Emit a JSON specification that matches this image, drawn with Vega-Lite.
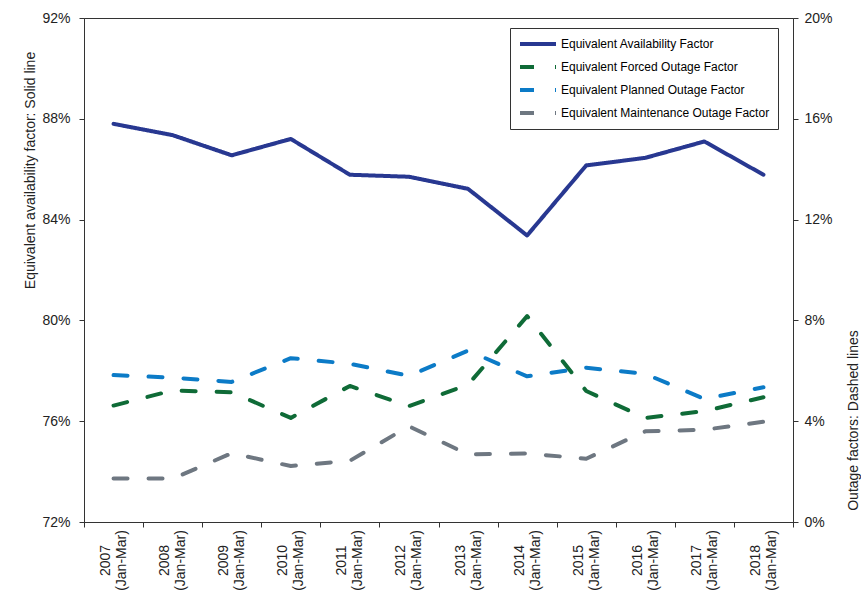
{
  "$schema": "https://vega.github.io/schema/vega-lite/v6.json",
  "autosize": {"type": "none"},
  "padding": {"left": 84, "top": 18, "right": 68, "bottom": 70},
  "width": 709,
  "height": 504,
  "config": {
    "font": "Liberation Sans",
    "view": {"stroke": "#333", "strokeWidth": 1},
    "axis": {
      "domainColor": "#333",
      "tickColor": "#333",
      "labelColor": "#222",
      "titleColor": "#222",
      "grid": false,
      "labelFontSize": 14,
      "titleFontSize": 14,
      "titleFontWeight": "normal",
      "tickSize": 5
    },
    "legend": {
      "orient": "none",
      "legendX": 426,
      "legendY": 10,
      "title": null,
      "symbolType": "M-1,0H5",
      "symbolSize": 144,
      "symbolStrokeWidth": 4,
      "labelFontSize": 12,
      "labelLimit": 320,
      "labelOffset": 27,
      "strokeColor": "#333",
      "fillColor": "white",
      "padding": 8,
      "rowPadding": 7
    }
  },
  "data": {
    "values": [
      {"year": "2007", "series": "Equivalent Availability Factor", "value": 87.8},
      {"year": "2008", "series": "Equivalent Availability Factor", "value": 87.35},
      {"year": "2009", "series": "Equivalent Availability Factor", "value": 86.55},
      {"year": "2010", "series": "Equivalent Availability Factor", "value": 87.2},
      {"year": "2011", "series": "Equivalent Availability Factor", "value": 85.78},
      {"year": "2012", "series": "Equivalent Availability Factor", "value": 85.7},
      {"year": "2013", "series": "Equivalent Availability Factor", "value": 85.22},
      {"year": "2014", "series": "Equivalent Availability Factor", "value": 83.37},
      {"year": "2015", "series": "Equivalent Availability Factor", "value": 86.15},
      {"year": "2016", "series": "Equivalent Availability Factor", "value": 86.45},
      {"year": "2017", "series": "Equivalent Availability Factor", "value": 87.1},
      {"year": "2018", "series": "Equivalent Availability Factor", "value": 85.78},
      {"year": "2007", "series": "Equivalent Forced Outage Factor", "value": 4.62},
      {"year": "2008", "series": "Equivalent Forced Outage Factor", "value": 5.22},
      {"year": "2009", "series": "Equivalent Forced Outage Factor", "value": 5.15},
      {"year": "2010", "series": "Equivalent Forced Outage Factor", "value": 4.13},
      {"year": "2011", "series": "Equivalent Forced Outage Factor", "value": 5.4},
      {"year": "2012", "series": "Equivalent Forced Outage Factor", "value": 4.6},
      {"year": "2013", "series": "Equivalent Forced Outage Factor", "value": 5.45},
      {"year": "2014", "series": "Equivalent Forced Outage Factor", "value": 8.17},
      {"year": "2015", "series": "Equivalent Forced Outage Factor", "value": 5.2},
      {"year": "2016", "series": "Equivalent Forced Outage Factor", "value": 4.13},
      {"year": "2017", "series": "Equivalent Forced Outage Factor", "value": 4.4},
      {"year": "2018", "series": "Equivalent Forced Outage Factor", "value": 4.95},
      {"year": "2007", "series": "Equivalent Planned Outage Factor", "value": 5.83},
      {"year": "2008", "series": "Equivalent Planned Outage Factor", "value": 5.73},
      {"year": "2009", "series": "Equivalent Planned Outage Factor", "value": 5.56},
      {"year": "2010", "series": "Equivalent Planned Outage Factor", "value": 6.5},
      {"year": "2011", "series": "Equivalent Planned Outage Factor", "value": 6.28},
      {"year": "2012", "series": "Equivalent Planned Outage Factor", "value": 5.8},
      {"year": "2013", "series": "Equivalent Planned Outage Factor", "value": 6.8},
      {"year": "2014", "series": "Equivalent Planned Outage Factor", "value": 5.78},
      {"year": "2015", "series": "Equivalent Planned Outage Factor", "value": 6.12},
      {"year": "2016", "series": "Equivalent Planned Outage Factor", "value": 5.88},
      {"year": "2017", "series": "Equivalent Planned Outage Factor", "value": 4.88},
      {"year": "2018", "series": "Equivalent Planned Outage Factor", "value": 5.35},
      {"year": "2007", "series": "Equivalent Maintenance Outage Factor", "value": 1.73},
      {"year": "2008", "series": "Equivalent Maintenance Outage Factor", "value": 1.72},
      {"year": "2009", "series": "Equivalent Maintenance Outage Factor", "value": 2.73},
      {"year": "2010", "series": "Equivalent Maintenance Outage Factor", "value": 2.22},
      {"year": "2011", "series": "Equivalent Maintenance Outage Factor", "value": 2.43},
      {"year": "2012", "series": "Equivalent Maintenance Outage Factor", "value": 3.8},
      {"year": "2013", "series": "Equivalent Maintenance Outage Factor", "value": 2.68},
      {"year": "2014", "series": "Equivalent Maintenance Outage Factor", "value": 2.72},
      {"year": "2015", "series": "Equivalent Maintenance Outage Factor", "value": 2.51},
      {"year": "2016", "series": "Equivalent Maintenance Outage Factor", "value": 3.6},
      {"year": "2017", "series": "Equivalent Maintenance Outage Factor", "value": 3.66},
      {"year": "2018", "series": "Equivalent Maintenance Outage Factor", "value": 3.98}
    ]
  },
  "encoding": {
    "x": {
      "field": "year",
      "type": "ordinal",
      "scale": {"type": "band", "paddingInner": 0, "paddingOuter": 0},
      "axis": {
        "title": null,
        "tickBand": "extent",
        "labelExpr": "datum.label ? [datum.label, '(Jan-Mar)'] : ''",
        "labelAngle": 270,
        "labelAlign": "center",
        "labelBaseline": "middle",
        "labelPadding": 33,
        "labelOffset": -8,
        "labelLineHeight": 16,
        "labelFontSize": 14
      }
    },
    "color": {
      "field": "series",
      "type": "nominal",
      "scale": {
        "domain": ["Equivalent Availability Factor", "Equivalent Forced Outage Factor", "Equivalent Planned Outage Factor", "Equivalent Maintenance Outage Factor"],
        "range": ["#283891", "#0F6B37", "#0C7BC7", "#6E7781"]
      },
      "legend": {}
    },
    "strokeDash": {
      "field": "series",
      "type": "nominal",
      "scale": {
        "domain": ["Equivalent Availability Factor", "Equivalent Forced Outage Factor", "Equivalent Planned Outage Factor", "Equivalent Maintenance Outage Factor"],
        "range": [[1, 0], [14, 21], [14, 21], [14, 21]]
      },
      "legend": {}
    }
  },
  "layer": [
    {
      "transform": [{"filter": "datum.series === 'Equivalent Availability Factor'"}],
      "mark": {"type": "line", "strokeWidth": 4, "strokeCap": "round", "strokeJoin": "round"},
      "encoding": {
        "y": {
          "field": "value",
          "type": "quantitative",
          "scale": {"domain": [72, 92], "nice": false, "zero": false},
          "axis": {
            "orient": "left",
            "values": [72, 76, 80, 84, 88, 92],
            "labelExpr": "datum.value + '%'",
            "labelPadding": 9,
            "title": "Equivalent availability factor: Solid line",
            "titleAngle": 270,
            "titleAlign": "center",
            "titleBaseline": "middle",
            "titleX": -54,
            "titleY": 152
          }
        }
      }
    },
    {
      "transform": [{"filter": "datum.series !== 'Equivalent Availability Factor'"}],
      "mark": {"type": "line", "strokeWidth": 4, "strokeCap": "round", "strokeJoin": "round"},
      "encoding": {
        "y": {
          "field": "value",
          "type": "quantitative",
          "scale": {"domain": [0, 20], "nice": false},
          "axis": {
            "orient": "right",
            "values": [0, 4, 8, 12, 16, 20],
            "labelExpr": "datum.value + '%'",
            "labelPadding": 6,
            "title": "Outage factors: Dashed lines",
            "titleAngle": 270,
            "titleAlign": "center",
            "titleBaseline": "middle",
            "titleX": 60,
            "titleY": 402
          }
        }
      }
    }
  ],
  "resolve": {"scale": {"y": "independent"}}
}
